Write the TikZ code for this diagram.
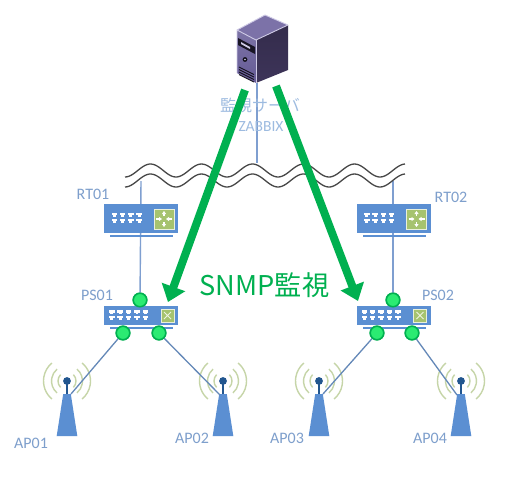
\documentclass[tikz,border=0pt]{standalone}
\usepackage{fontspec}
\setmainfont{Carlito}
\newfontfamily\cjkfont{Noto Sans CJK JP}
\usetikzlibrary{arrows.meta,calc}
\definecolor{linkblue}{HTML}{7F9FD0}
\definecolor{boxblue}{HTML}{5B8FD2}
\definecolor{labelblue}{HTML}{7E9FCC}
\definecolor{soft}{HTML}{9DBBE0}
\definecolor{snmp}{HTML}{00B050}
\definecolor{led}{HTML}{2BEB72}
\definecolor{squareg}{HTML}{A6C36F}
\definecolor{arcg}{HTML}{C6D5A8}
\definecolor{dotblue}{HTML}{22568F}
\definecolor{srvfront}{HTML}{655B96}
\definecolor{srvside}{HTML}{3D3459}
\definecolor{srvtop}{HTML}{7C72A8}
\definecolor{srvedge}{HTML}{CFCBE6}
\definecolor{aplinkc}{HTML}{6488B8}
\tikzset{
  link/.style={draw=linkblue,line width=1.4pt},
  aplink/.style={draw=aplinkc,line width=1.3pt},
  wave/.style={draw=black!72,line width=1.3pt},
  led/.style={circle,draw=snmp,fill=led,line width=1.5pt,minimum size=13.5pt,inner sep=0pt},
  watch/.style={draw=snmp,line width=8pt,-{Triangle[length=16pt,width=24pt]}},
  lbl/.style={text=labelblue,font=\fontsize{16}{16}\selectfont,inner sep=0pt},
  softlbl/.style={text=soft,inner sep=0pt},
  netbody/.style={fill=boxblue,draw=none,minimum width=74pt,inner sep=0pt},
  rarrow/.style={white,line width=1.1pt,-{Triangle[length=3pt,width=4pt]}},
}
% name, centre x, top y
\newcommand{\routerbox}[3]{%
  \node[netbody,minimum height=29pt] (#1) at (#2,#3+14.5) {};
  \fill[boxblue] (#2-31,#3+31) rectangle (#2+32,#3+33);
  \fill[squareg,draw=white!75!squareg,line width=.7pt] (#2+13,#3+5) rectangle (#2+33,#3+25);
  \draw[rarrow] (#2+23,#3+12) -- (#2+23,#3+7);
  \draw[rarrow] (#2+23,#3+18) -- (#2+23,#3+23);
  \draw[rarrow] (#2+15,#3+15) -- (#2+21,#3+15);
  \draw[rarrow] (#2+31,#3+15) -- (#2+25,#3+15);
  \foreach \k in {0,1,2,3}{
    \foreach \r in {0,1}{
      \fill[white] ({#2-29.5+8.3*\k},#3+9+\r*6) rectangle ++(5.5,2.4);
      \fill[white] ({#2-28.2+8.3*\k},#3+11.4+\r*6) rectangle ++(3,1.5);
    }}
}
\newcommand{\switchbox}[3]{%
  \node[netbody,minimum height=19pt] (#1) at (#2,#3+9.5) {};
  \fill[boxblue] (#2-31,#3+21.2) rectangle (#2+32,#3+23.2);
  \fill[squareg,draw=white!75!squareg,line width=.7pt] (#2+20,#3+3) rectangle (#2+33,#3+16);
  \draw[white!80!squareg,line width=.8pt] (#2+23,#3+6) -- (#2+30,#3+13) (#2+23,#3+13) -- (#2+30,#3+6);
  \foreach \k in {0,1,2,3,4}{
    \foreach \r in {0,1}{
      \fill[white] ({#2-32+8.4*\k},#3+4.2+\r*5.6) rectangle ++(5.5,2.4);
      \fill[white] ({#2-30.6+8.4*\k},#3+6.6+\r*5.6) rectangle ++(2.8,1.4);
    }}
}
% name, centre x
\newcommand{\antenna}[2]{%
  \foreach \r/\a in {9/45,15.5/50,23.5/50}{
    \draw[arcg,line width=1.4pt] ($(#2,381)+(-\a:\r)$) arc[start angle=-\a,end angle=\a,radius=\r];
    \draw[arcg,line width=1.4pt] ($(#2,381)+(180-\a:\r)$) arc[start angle=180-\a,end angle=180+\a,radius=\r];
  }
  \draw[dotblue,line width=2pt] (#2,381) -- (#2,395);
  \fill[dotblue] (#2,381) circle[radius=3.9];
  \fill[boxblue] (#2-3.8,394) -- (#2+3.8,394) -- (#2+10.3,436) -- (#2-10.3,436) -- cycle;
  \coordinate (#1) at (#2,394);
}
\begin{document}
\begin{tikzpicture}[x=1pt,y=-1pt]
\useasboundingbox (0,0) rectangle (512,483);
\fill[white] (0,0) rectangle (512,483);

% free link ends
\coordinate (srvfoot) at (257,83);
\coordinate (cloudA) at (257,163);
\coordinate (cloudL) at (141,181);
\coordinate (cloudR) at (393,181);

% links behind devices
\node[led] (L1) at (140,300) {};
\node[led] (L2) at (123,333) {};
\node[led] (L3) at (159,333) {};
\node[led] (R1) at (393,300) {};
\node[led] (R2) at (377,333) {};
\node[led] (R3) at (412,333) {};
\draw[link] (srvfoot) -- (cloudA);
\draw[link] (cloudL) -- (L1);
\draw[link] (cloudR) -- (R1);

% waves
\draw[wave] plot[domain=125:405,samples=140,smooth] (\x,{170.5-6.5*cos(7.0588*(\x-150.5))});
\draw[wave] plot[domain=125:405,samples=140,smooth] (\x,{180.5-6.5*cos(7.0588*(\x-150.5))});

% network devices
\routerbox{RT1}{141}{204}
\routerbox{RT2}{393.5}{204}
\switchbox{PS1}{141}{306}
\switchbox{PS2}{393.5}{306}
\antenna{AP1}{67}
\antenna{AP2}{223}
\antenna{AP3}{319}
\antenna{AP4}{461}
\coordinate (AP1c) at (71,394);
\coordinate (AP2c) at (220,395);
\coordinate (AP3c) at (323,394);
\coordinate (AP4c) at (457,395);
\draw[aplink] (L2) -- (AP1c);
\draw[aplink] (L3) -- (AP2c);
\draw[aplink] (R2) -- (AP3c);
\draw[aplink] (R3) -- (AP4c);
\node[led] at (L1) {};
\node[led] at (L2) {};
\node[led] at (L3) {};
\node[led] at (R1) {};
\node[led] at (R2) {};
\node[led] at (R3) {};

% server
\fill[srvtop] (237,30) -- (265,15) -- (288,25) -- (256,40) -- cycle;
\shade[top color=srvside!85!black,bottom color=srvside] (256,40) -- (288,25) -- (288,70) -- (256,83) -- cycle;
\shade[top color=srvfront!85!white,bottom color=srvfront] (237,30) -- (256,40) -- (256,83) -- (237,73) -- cycle;
\draw[srvedge,line width=.9pt] (237,73) -- (237,30) -- (265,15) -- (288,25) (237,30) -- (256,40) -- (288,25);
\draw[srvedge,line width=.5pt] (256,40) -- (256,83);
\fill[black!60!srvside] (238,38) -- (255,47) -- (255,54) -- (238,45) -- cycle;
\fill[srvedge] (241,42) -- (250,47) -- (250,49) -- (241,44) -- cycle;
\fill[black!70!srvside] (245,59.5) circle[radius=2.4];
\fill[srvedge] (245,59.5) circle[radius=.9];
\foreach \s in {0,1,2,3}
  \draw[black!70!srvside,line width=.9pt] (239,67+\s*2.5) -- (254,75+\s*2.5-.5);
\node[softlbl,font=\cjkfont\fontsize{16}{16}\selectfont] (srvname) at (260,105) {監視サーバ};
\node[softlbl,font=\fontsize{15.5}{16}\selectfont] (srvsub) at (261,127) {ZABBIX};

% labels
\node[lbl] (tRT1) at (93,194) {RT01};
\node[lbl] (tPS1) at (97,295) {PS01};
\node[lbl] (tRT2) at (451,197) {RT02};
\node[lbl] (tPS2) at (438,295) {PS02};
\node[lbl] (tAP1) at (31,443) {AP01};
\node[lbl] (tAP2) at (192,438) {AP02};
\node[lbl] (tAP3) at (287,438) {AP03};
\node[lbl] (tAP4) at (430,438) {AP04};
\node[text=snmp,inner sep=0pt,font=\cjkfont\fontsize{27.2}{27}\selectfont] (snmplbl) at (264.5,285) {SNMP監視};

% monitoring arrows
\coordinate (wL0) at (245,90);
\coordinate (wL1) at (168,302);
\coordinate (wR0) at (276,86);
\coordinate (wR1) at (358,301);
\draw[watch] (wL0) -- (wL1);
\draw[watch] (wR0) -- (wR1);
\end{tikzpicture}
\end{document}
